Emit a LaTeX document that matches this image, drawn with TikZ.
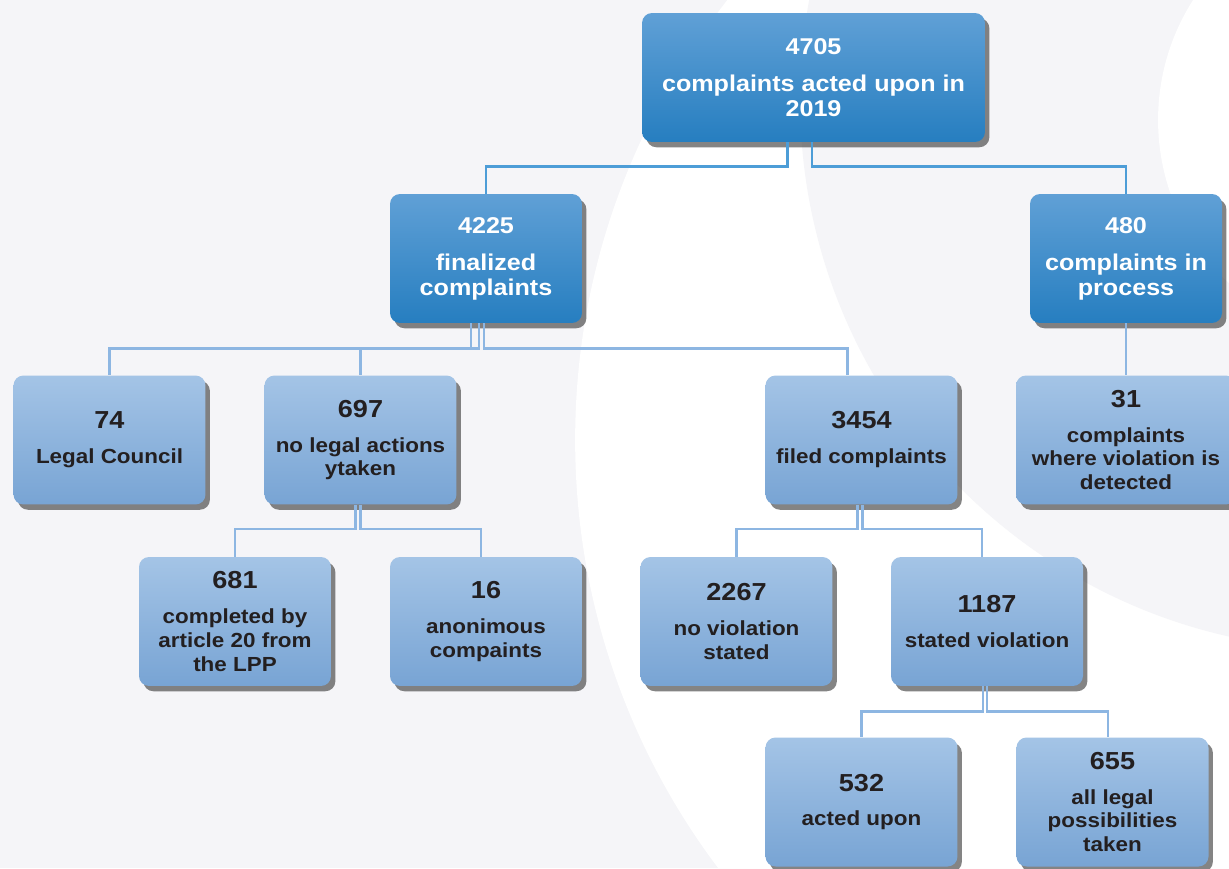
\documentclass[tikz,border=0pt]{standalone}
\usepackage{fontspec}
\setmainfont{Liberation Sans}[FakeStretch=1.1]
\usepackage{tikz}
\usetikzlibrary{shadows}
\definecolor{bggrey}{RGB}{245,245,248}
\definecolor{topblue}{RGB}{96,160,214}
\definecolor{botblue}{RGB}{38,126,192}
\definecolor{toplight}{RGB}{164,196,230}
\definecolor{botlight}{RGB}{120,164,212}
\definecolor{wireblue}{RGB}{77,157,215}
\definecolor{wirelight}{RGB}{141,182,226}
\definecolor{inkdark}{RGB}{35,31,32}
\newcommand{\boxnum}[1]{{\fontsize{14}{13}\selectfont #1}}

\begin{document}
\begin{tikzpicture}[x=0.02cm, y=-0.02cm,
    darkbox/.style={rounded corners=0.2cm, top color=topblue, bottom color=botblue,
        text=white, minimum width=3.84cm, minimum height=2.58cm, align=center,
        font=\bfseries\fontsize{13}{14.2}\selectfont,
        drop shadow={shadow xshift=2.5pt, shadow yshift=-3pt, opacity=0.6, fill=black!80}},
    lightbox/.style={darkbox, top color=toplight, bottom color=botlight,
        text=inkdark, font=\bfseries\fontsize{11.6}{13.4}\selectfont},
    wire/.style={draw, line width=1.5pt, wireblue},
    thinwire/.style={draw, line width=1.5pt, wirelight}]
        \useasboundingbox (0,0) rectangle (1229,868);
        \fill[bggrey] (0,0) rectangle (1229,868);
        \begin{scope}
            \clip (0,0) rectangle (1229,868);
            \fill[white] (1287,440) circle [radius=14.24cm];
            \fill[bggrey] (1350,100) circle [radius=11cm];
            \fill[white] (1381,120) circle [radius=4.46cm];
        \end{scope}

        \node[darkbox, minimum width=6.86cm] (total) at (813.5,77.5) {4705\\[7pt]complaints acted upon in\\2019};
        \node[darkbox] (final) at (486,258.5) {4225\\[7pt]finalized\\complaints};
        \node[darkbox] (proc) at (1126,258.5) {480\\[7pt]complaints in\\process};

        \node[lightbox] (council) at (109.5,440) {\boxnum{74}\\[6.5pt]Legal Council};
        \node[lightbox] (noact) at (360.5,440) {\boxnum{697}\\[6.5pt]no legal actions\\ytaken};
        \node[lightbox] (filed) at (861.5,440) {\boxnum{3454}\\[6.5pt]filed complaints};
        \node[lightbox, minimum width=4.4cm] (found) at (1126,440) {\boxnum{31}\\[6.5pt]complaints\\where violation is\\detected};

        \node[lightbox] (lpp) at (235,621.5) {\boxnum{681}\\[6.5pt]completed by\\article 20 from\\the LPP};
        \node[lightbox] (anon) at (486,621.5) {\boxnum{16}\\[6.5pt]anonimous\\compaints};
        \node[lightbox] (noviol) at (736.5,621.5) {\boxnum{2267}\\[6.5pt]no violation\\stated};
        \node[lightbox] (stated) at (987,621.5) {\boxnum{1187}\\[6.5pt]stated violation};

        \node[lightbox] (acted) at (861.5,802) {\boxnum{532}\\[6.5pt]acted upon};
        \node[lightbox] (alltaken) at (1112.5,802) {\boxnum{655}\\[6.5pt]all legal\\possibilities\\taken};

        \path[wire] ([xshift=-0.52cm]total.south) -- ++(0,24) -| (final.north);
        \path[wire] ([xshift=-0.03cm]total.south) -- ++(0,24) -| (proc.north);
        \path[thinwire] ([xshift=-0.3cm]final.south) -- ++(0,25) -| (council.north);
        \path[thinwire] ([xshift=-0.14cm]final.south) -- ++(0,25) -| (noact.north);
        \path[thinwire] ([xshift=-0.04cm]final.south) -- ++(0,25) -| ([xshift=-0.28cm]filed.north);
        \path[thinwire] (proc.south) -- (found.north -| proc.south);
        \path[thinwire] ([xshift=-0.1cm]noact.south) -- ++(0,24) -| (lpp.north);
        \path[thinwire] (noact.south) -- ++(0,24) -| ([xshift=-0.1cm]anon.north);
        \path[thinwire] ([xshift=-0.08cm]filed.south) -- ++(0,24) -| (noviol.north);
        \path[thinwire] ([xshift=0.02cm]filed.south) -- ++(0,24) -| ([xshift=-0.1cm]stated.north);
        \path[thinwire] ([xshift=-0.08cm]stated.south) -- ++(0,25) -| (acted.north);
        \path[thinwire] (stated.south) -- ++(0,25) -| ([xshift=-0.09cm]alltaken.north);
    \end{tikzpicture}
\end{document}
